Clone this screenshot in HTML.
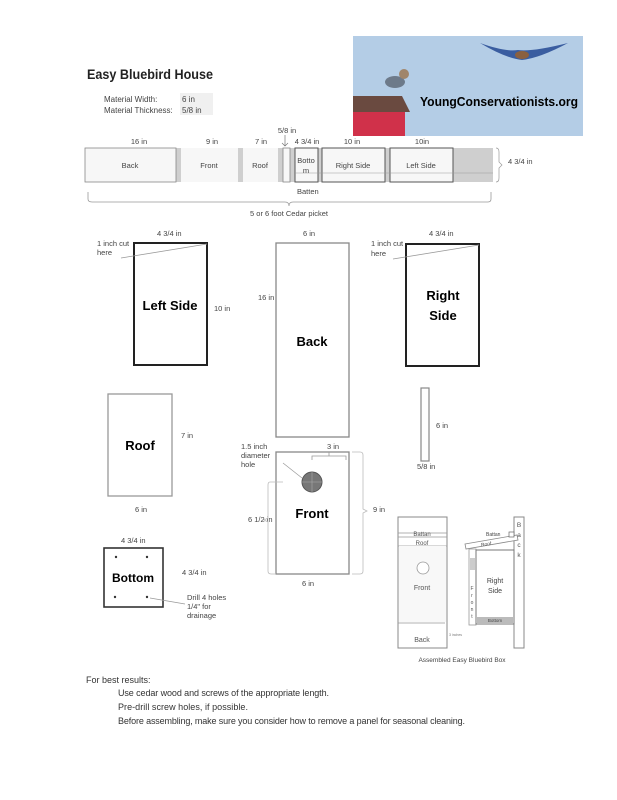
<!DOCTYPE html>
<html><head><meta charset="utf-8"><style>
html,body{margin:0;padding:0;background:#fff;}
svg{display:block;font-family:"Liberation Sans",sans-serif;}
</style></head><body>
<svg width="617" height="800" viewBox="0 0 617 800" xmlns="http://www.w3.org/2000/svg">
<rect width="617" height="800" fill="#fff"/>
<!-- photo -->
<rect x="353" y="36" width="230" height="100" fill="#b4cde6"/>
<polygon points="353,96 402,96 410,112 353,112" fill="#6a4a40"/>
<rect x="353" y="112" width="52" height="24" fill="#d0314a"/>
<ellipse cx="395" cy="82" rx="10" ry="6" fill="#6d7a8a"/>
<circle cx="404" cy="74" r="5" fill="#a0856a"/>
<path d="M480 43 Q505 52 518 50 Q532 52 568 43 Q540 58 522 60 Q505 58 480 43Z" fill="#3a5da0"/>
<ellipse cx="522" cy="55" rx="7" ry="4" fill="#8a6040"/>
<text x="420" y="106" font-size="13" font-weight="bold" fill="#000" textLength="158" lengthAdjust="spacingAndGlyphs">YoungConservationists.org</text>
<!-- title -->
<text x="87" y="79" font-size="14" font-weight="bold" fill="#222" textLength="126" lengthAdjust="spacingAndGlyphs">Easy Bluebird House</text>
<rect x="180" y="93" width="33" height="22" fill="#f0f0f0"/>
<g font-size="8" fill="#444">
<text x="104" y="102">Material Width:</text>
<text x="104" y="113">Material Thickness:</text>
<text x="182" y="102">6 in</text>
<text x="182" y="113">5/8 in</text>
</g>
<!-- strip -->
<rect x="85" y="148" width="408" height="34" fill="#cfcfcf"/>
<g fill="#f7f7f7" stroke="#888" stroke-width="0.8">
<rect x="85" y="148" width="91" height="34"/>
<rect x="181" y="148" width="57" height="34" stroke="none"/>
<rect x="243" y="148" width="35" height="34" stroke="none"/>
<rect x="283" y="148" width="7" height="34"/>
</g>
<g fill="#f7f7f7" stroke="#555" stroke-width="1">
<rect x="295" y="148" width="23" height="34"/>
<rect x="322" y="148" width="63" height="34"/>
<rect x="390" y="148" width="63" height="34"/>
</g>
<line x1="295" y1="173" x2="493" y2="173" stroke="#999" stroke-width="0.6"/>
<g font-size="7.5" fill="#444" text-anchor="middle">
<text x="130" y="168">Back</text><text x="209" y="168">Front</text><text x="260" y="168">Roof</text>
<text x="306" y="163">Botto</text><text x="306" y="173">m</text>
<text x="353" y="168">Right Side</text><text x="421" y="168">Left Side</text>
<text x="139" y="144">16 in</text><text x="212" y="144">9 in</text><text x="261" y="144">7 in</text>
<text x="307" y="144">4 3/4 in</text><text x="352" y="144">10 in</text><text x="422" y="144">10in</text>
<text x="287" y="133">5/8 in</text>
<text x="289" y="216">5 or 6 foot Cedar picket</text>
</g>
<text x="508" y="164" font-size="7.5" fill="#444">4 3/4 in</text>
<text x="297" y="194" font-size="7.5" fill="#444">Batten</text>
<path d="M285 135 V146 M282 143 L285 146 L288 143" stroke="#777" fill="none" stroke-width="0.7"/>
<path d="M496 148 Q499 148 499 152 V162 L502 165 L499 168 V178 Q499 182 496 182" stroke="#999" fill="none" stroke-width="0.7"/>
<path d="M88 192 V199 Q88 202 92 202 H285 Q289 202 289 206 Q289 202 293 202 H488 Q491 202 491 199 V192" stroke="#999" fill="none" stroke-width="0.8"/>
<!-- Left side -->
<rect x="134" y="243" width="73" height="122" fill="#fff" stroke="#222" stroke-width="2"/>
<line x1="121" y1="258" x2="207" y2="244" stroke="#999" stroke-width="0.8"/>
<text x="170" y="310" font-size="13" font-weight="bold" text-anchor="middle">Left Side</text>
<g font-size="7.5" fill="#444">
<text x="157" y="236">4 3/4 in</text><text x="214" y="311">10 in</text>
<text x="97" y="246">1 inch cut</text><text x="97" y="255">here</text>
<text x="371" y="246">1 inch cut</text><text x="371" y="256">here</text>
<text x="429" y="236">4 3/4 in</text>
<text x="303" y="236">6 in</text><text x="258" y="300">16 in</text>
<text x="181" y="438">7 in</text><text x="135" y="512">6 in</text>
<text x="436" y="428">6 in</text><text x="417" y="469">5/8 in</text>
<text x="241" y="449">1.5 inch</text><text x="241" y="458">diameter</text><text x="241" y="467">hole</text>
<text x="327" y="449">3 in</text>
<text x="248" y="522">6 1/2 in</text><text x="373" y="512">9 in</text>
<text x="302" y="586">6 in</text>
<text x="121" y="543">4 3/4 in</text><text x="182" y="575">4 3/4 in</text>
<text x="187" y="600">Drill 4 holes</text><text x="187" y="609">1/4" for</text><text x="187" y="618">drainage</text>
</g>
<!-- Back -->
<rect x="276" y="243" width="73" height="194" fill="#fff" stroke="#888" stroke-width="1.3"/>
<text x="312" y="346" font-size="13" font-weight="bold" text-anchor="middle">Back</text>
<!-- Right side -->
<rect x="406" y="244" width="73" height="122" fill="#fff" stroke="#222" stroke-width="2"/>
<line x1="393" y1="259" x2="479" y2="245" stroke="#999" stroke-width="0.8"/>
<text x="443" y="300" font-size="13" font-weight="bold" text-anchor="middle">Right</text>
<text x="443" y="320" font-size="13" font-weight="bold" text-anchor="middle">Side</text>
<!-- Roof -->
<rect x="108" y="394" width="64" height="102" fill="#fff" stroke="#999" stroke-width="1.3"/>
<text x="140" y="450" font-size="13" font-weight="bold" text-anchor="middle">Roof</text>
<!-- Batten -->
<rect x="421" y="388" width="8" height="73" fill="#fff" stroke="#888" stroke-width="1.2"/>
<!-- Front -->
<rect x="276" y="452" width="73" height="122" fill="#fff" stroke="#888" stroke-width="1.3"/>
<circle cx="312" cy="482" r="10" fill="#777" stroke="#555"/>
<path d="M302 482 H322 M312 472 V492" stroke="#aaa" stroke-width="0.6"/>
<line x1="283" y1="463" x2="302" y2="478" stroke="#999" stroke-width="0.7"/>
<path d="M312 460 V456 H346 V460 M329 456 V452" stroke="#999" fill="none" stroke-width="0.8"/>
<path d="M283 482 H270 Q268 482 268 485 V518 L264 520 L268 522 V571 Q268 574 271 574 H276" stroke="#bbb" fill="none" stroke-width="0.8"/>
<path d="M352 452 H360 Q363 452 363 455 V509 L367 511 L363 513 V571 Q363 574 360 574 H352" stroke="#bbb" fill="none" stroke-width="0.8"/>
<text x="312" y="518" font-size="13" font-weight="bold" text-anchor="middle">Front</text>
<!-- Bottom -->
<rect x="104" y="548" width="59" height="59" fill="#fff" stroke="#333" stroke-width="1.6"/>
<g fill="#333"><circle cx="116" cy="557" r="1.2"/><circle cx="147" cy="557" r="1.2"/><circle cx="115" cy="597" r="1.2"/><circle cx="147" cy="597" r="1.2"/></g>
<line x1="150" y1="598" x2="185" y2="604" stroke="#999" stroke-width="0.7"/>
<text x="133" y="582" font-size="12" font-weight="bold" text-anchor="middle">Bottom</text>
<!-- Assembled front -->
<rect x="398" y="517" width="49" height="131" fill="#fff" stroke="#888" stroke-width="1"/>
<path d="M398 533 H447 M398 537 H447 M398 546 H447 M398 623 H445" stroke="#999" stroke-width="0.8"/>
<rect x="399" y="546" width="47" height="76" fill="#f8f8f8"/>
<circle cx="423" cy="568" r="6" fill="#fff" stroke="#999" stroke-width="0.8"/>
<g font-size="6" fill="#555" text-anchor="middle">
<text x="422" y="536">Battan</text><text x="422" y="545">Roof</text>
<text x="422" y="590" font-size="7">Front</text><text x="422" y="642" font-size="7">Back</text>
</g>
<text x="449" y="636" font-size="3.5" fill="#777">3 inches</text>
<!-- Assembled side -->
<rect x="514" y="517" width="10" height="131" fill="#fff" stroke="#888" stroke-width="1"/>
<g font-size="6.5" fill="#555" text-anchor="middle"><text x="519" y="527">B</text><text x="519" y="537">a</text><text x="519" y="547">c</text><text x="519" y="557">k</text></g>
<polygon points="465,544 517,535 518,540 466,549" fill="#fff" stroke="#888" stroke-width="0.8"/>
<text x="481" y="546" font-size="5" fill="#555" transform="rotate(-10 485 545)">Roof</text>
<rect x="509" y="532" width="5" height="5" fill="#fff" stroke="#666" stroke-width="0.7"/>
<text x="486" y="536" font-size="5" fill="#444">Battan</text>
<rect x="469" y="549" width="7" height="76" fill="#fff" stroke="#999" stroke-width="0.8"/>
<rect x="470" y="558" width="5" height="12" fill="#ccc"/>
<g font-size="5" fill="#555" text-anchor="middle"><text x="472" y="590">F</text><text x="472" y="597">r</text><text x="472" y="604">o</text><text x="472" y="611">n</text><text x="472" y="618">t</text></g>
<rect x="476" y="550" width="38" height="74" fill="#fff" stroke="#777" stroke-width="1"/>
<rect x="477" y="617" width="36" height="6" fill="#bbb"/>
<text x="495" y="622" font-size="4.5" fill="#444" text-anchor="middle">Bottom</text>
<text x="495" y="583" font-size="7" fill="#444" text-anchor="middle">Right</text>
<text x="495" y="593" font-size="7" fill="#444" text-anchor="middle">Side</text>
<text x="462" y="662" font-size="6.5" fill="#444" text-anchor="middle">Assembled Easy Bluebird Box</text>
<!-- notes -->
<g font-size="9" fill="#333">
<text x="86" y="683">For best results:</text>
<text x="118" y="696" textLength="211">Use cedar wood and screws of the appropriate length.</text>
<text x="118" y="710" textLength="130">Pre-drill screw holes, if possible.</text>
<text x="118" y="724" textLength="347">Before assembling, make sure you consider how to remove a panel for seasonal cleaning.</text>
</g>
</svg>
</body></html>
